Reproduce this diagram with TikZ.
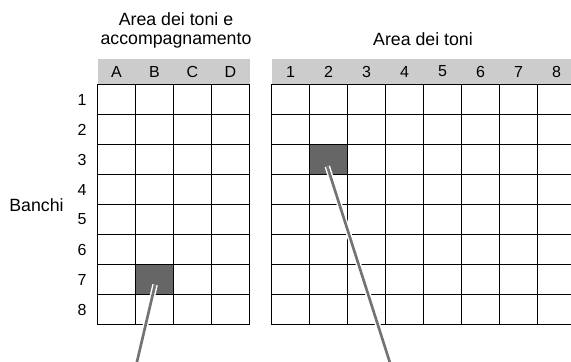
\documentclass[tikz,border=0pt]{standalone}
\usepackage{fontspec}
\setmainfont{Liberation Sans}

\begin{document}
\begin{tikzpicture}[x=0.75pt, y=-0.75pt,
    cell/.style={minimum width=28.5pt, minimum height=22.5pt,
                 inner sep=0pt, outer sep=0pt},
    gridline/.style={line width=1pt, line cap=rect},
    headcell/.style={fill=black!20, minimum width=28.5pt, minimum height=19.5pt,
                     inner sep=0pt, font=\fontsize{12}{14}\selectfont},
    lbl/.style={inner sep=0pt, font=\fontsize{12}{14}\selectfont},
    title/.style={inner sep=0pt, align=center, font=\fontsize{13.3}{13.7}\selectfont},
    leader/.style={draw=white, line width=1.1pt, double=black!55, double distance=2pt}]
  \useasboundingbox (0,0) rectangle (571,361);
  \clip (0,0) rectangle (571,361);

  % Titles
  \node[title] (ta) at (176, 30.5) {Area dei toni e\\accompagnamento};
  \node[title, anchor=base] (tb) at (423, 45) {Area dei toni};
  \node[title] (banchi) at (36.5, 205.5) {Banchi};

  % Row numbers
  \foreach \r in {1,...,8}
    \node[lbl] (r\r) at (82, 84.5+30*\r-15) {\r};

  % Left grid (A-D)
  \foreach \c [count=\i] in {A,B,C,D} {
    \node[headcell] (ha-\c) at (97.5+38*\i-19, 71.5) {\c};
    \foreach \r in {1,...,8} {
      \pgfmathsetmacro{\fillcol}{(\i==2 && \r==7) ? "black!60" : "white"}
      \node[cell, fill=\fillcol] (a-\c-\r) at (97.5+38*\i-19, 84.5+30*\r-15) {};
    }
  }
  \foreach \r in {1,...,8}
    \draw[gridline] (a-A-\r.north west) -- (a-D-\r.north east);
  \draw[gridline] (a-A-8.south west) -- (a-D-8.south east);
  \foreach \c in {A,B,C,D}
    \draw[gridline] (a-\c-1.north west) -- (a-\c-8.south west);
  \draw[gridline] (a-D-1.north east) -- (a-D-8.south east);

  % Right grid (1-8)
  \foreach \c in {1,...,8} {
    \node[headcell] (hb-\c) at (271.5+38*\c-19, 71.5) {\c};
    \foreach \r in {1,...,8} {
      \pgfmathsetmacro{\fillcol}{(\c==2 && \r==3) ? "black!60" : "white"}
      \node[cell, fill=\fillcol] (b-\c-\r) at (271.5+38*\c-19, 84.5+30*\r-15) {};
    }
  }
  \foreach \r in {1,...,8}
    \draw[gridline] (b-1-\r.north west) -- (b-8-\r.north east);
  \draw[gridline] (b-1-8.south west) -- (b-8-8.south east);
  \foreach \c in {1,...,8}
    \draw[gridline] (b-\c-1.north west) -- (b-\c-8.south west);
  \draw[gridline] (b-8-1.north east) -- (b-8-8.south east);

  % Leader lines
  \coordinate (start-a) at ([xshift=0.4pt, yshift=-4pt]a-B-7.center);
  \coordinate (end-a) at (136, 366);
  \coordinate (start-b) at ([xshift=-0.9pt, yshift=-5.2pt]b-2-3.center);
  \coordinate (end-b) at (391, 366);
  \draw[leader] (start-a) -- (end-a);
  \draw[leader] (start-b) -- (end-b);
\end{tikzpicture}
\end{document}
